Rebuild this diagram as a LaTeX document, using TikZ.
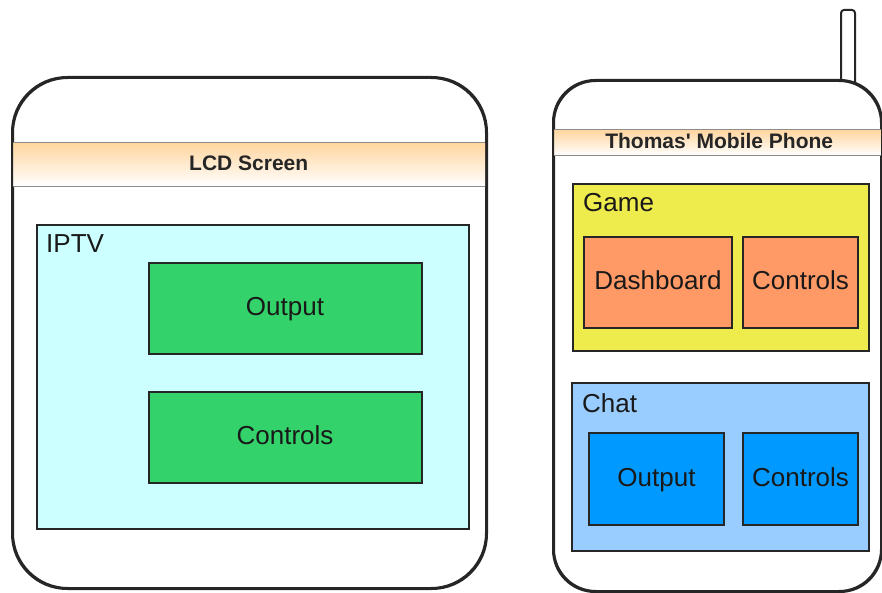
\documentclass[tikz,border=0pt]{standalone}
\usepackage{fontspec}
\setmainfont{Liberation Sans}
\definecolor{peach}{RGB}{255,214,160}
\definecolor{tvbg}{RGB}{204,255,255}
\definecolor{tvpart}{RGB}{52,210,106}
\definecolor{gamebg}{RGB}{238,236,76}
\definecolor{gamepart}{RGB}{255,153,102}
\definecolor{chatbg}{RGB}{153,204,255}
\definecolor{chatpart}{RGB}{0,153,255}
\begin{document}
\begin{tikzpicture}[x=1pt,y=-1pt,
  outline/.style={draw=black!85, line width=2pt},
  body/.style={outline, fill=white, anchor=north west, inner sep=0pt},
  panel/.style={outline, anchor=north west, inner sep=0pt},
  part/.style={panel, font=\fontsize{26}{30}\selectfont, text=black!90, text height=19, text depth=5},
  tag/.style={anchor=base west, inner sep=0pt, font=\fontsize{26}{30}\selectfont, text=black!90},
  band/.style={top color=peach, bottom color=white, inner sep=0pt, anchor=north west,
    font=\bfseries\fontsize{21}{24}\selectfont, text=black!85, text height=15, text depth=4},
  bandline/.style={draw=black!45, line width=1pt}
]
\useasboundingbox (0,0) rectangle (882,593);

% ---------- television ----------
\node[body, rounded corners=55, minimum width=473, minimum height=510] (tv) at (12,77) {};
\node[band, minimum width=473, minimum height=43] (tvband) at (12,143) {LCD Screen};
\draw[bandline] (tvband.north west) -- (tvband.north east);
\draw[bandline] (tvband.south west) -- (tvband.south east);
\draw[outline, rounded corners=55] (tv.north west) rectangle (tv.south east);

\node[panel, fill=tvbg, minimum width=432, minimum height=304] (iptv) at (36,224) {};
\node[tag] (iptvlabel) at (46,253) {IPTV};
\node[part, fill=tvpart, minimum width=273, minimum height=91] (tvout) at (147.5,262) {Output};
\node[part, fill=tvpart, minimum width=273, minimum height=91] (tvctl) at (147.5,391) {Controls};

% ---------- mobile phone ----------
\node[body, rounded corners=3, minimum width=14, minimum height=80] (antenna) at (840,9) {};
\node[body, rounded corners=42, minimum width=327, minimum height=510] (phone) at (553,80) {};
\node[band, minimum width=332, minimum height=25] (phoneband) at (553,130) {Thomas\textquotesingle\ Mobile Phone};
\draw[bandline] (phoneband.north west) -- (phoneband.north east);
\draw[bandline] (phoneband.south west) -- (phoneband.south east);
\draw[outline, rounded corners=42] (phone.north west) rectangle (phone.south east);

\node[panel, fill=gamebg, minimum width=296, minimum height=167] (game) at (572,183) {};
\node[tag] (gamelabel) at (583,212) {Game};
\node[part, fill=gamepart, minimum width=148, minimum height=91] (dash) at (583,236) {Dashboard};
\node[part, fill=gamepart, minimum width=115, minimum height=91] (gamectl) at (742,236) {Controls};

\node[panel, fill=chatbg, minimum width=297, minimum height=168] (chat) at (571,382) {};
\node[tag] (chatlabel) at (582,412) {Chat};
\node[part, fill=chatpart, minimum width=135, minimum height=92] (chatout) at (588,432) {Output};
\node[part, fill=chatpart, minimum width=115, minimum height=92] (chatctl) at (742,432) {Controls};
\end{tikzpicture}
\end{document}
